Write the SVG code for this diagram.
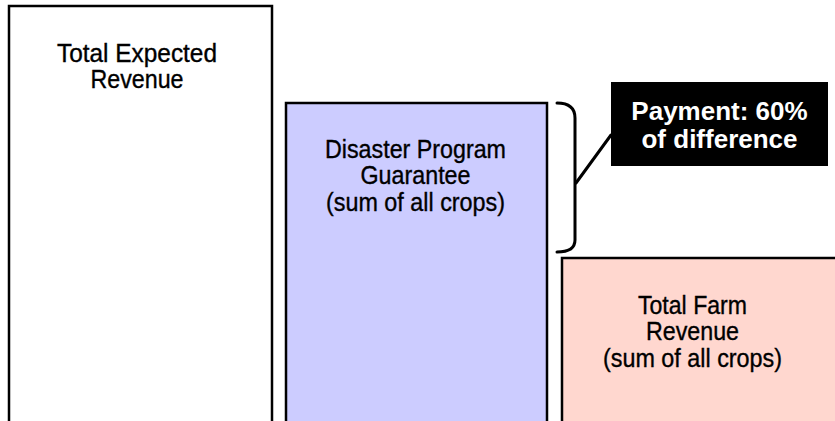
<svg xmlns="http://www.w3.org/2000/svg" width="835" height="421" viewBox="0 0 835 421">
<style>
.box{stroke:#000;stroke-width:2.5}
.lbl{font-family:"Liberation Sans",Arial,sans-serif;font-size:25px;fill:#000;stroke:#000;stroke-width:0.35;text-anchor:middle}
.call{font-family:"Liberation Sans",Arial,sans-serif;font-size:26px;font-weight:bold;fill:#fff;text-anchor:middle}
.conn{fill:none;stroke:#000;stroke-width:3;stroke-linecap:round}
</style>
<rect width="835" height="421" fill="#fff"/>
<g id="expected">
<rect class="box" x="9" y="6" width="263" height="430" fill="#fff"/>
<text class="lbl" x="137" y="61.5" textLength="160" lengthAdjust="spacingAndGlyphs">Total Expected</text>
<text class="lbl" x="137" y="88" textLength="93" lengthAdjust="spacingAndGlyphs">Revenue</text>
</g>
<g id="guarantee">
<rect class="box" x="286" y="103" width="261" height="340" fill="#CCCCFF"/>
<text class="lbl" x="415.5" y="157.5" textLength="181" lengthAdjust="spacingAndGlyphs">Disaster Program</text>
<text class="lbl" x="415.5" y="184" textLength="110" lengthAdjust="spacingAndGlyphs">Guarantee</text>
<text class="lbl" x="415.5" y="210.5" textLength="179" lengthAdjust="spacingAndGlyphs">(sum of all crops)</text>
</g>
<g id="farm">
<rect class="box" x="562" y="258" width="280" height="200" fill="#FFD7CF"/>
<text class="lbl" x="692.5" y="313.5" textLength="109" lengthAdjust="spacingAndGlyphs">Total Farm</text>
<text class="lbl" x="692.5" y="340" textLength="93" lengthAdjust="spacingAndGlyphs">Revenue</text>
<text class="lbl" x="692.5" y="366.5" textLength="179" lengthAdjust="spacingAndGlyphs">(sum of all crops)</text>
</g>
<g id="payment">
<rect x="611" y="82" width="217" height="84" fill="#000"/>
<text class="call" x="719.5" y="119.5">Payment: 60%</text>
<text class="call" x="719.5" y="148">of difference</text>
</g>
<g id="connectors">
<path class="conn" d="M557,103 Q575,103 575,118 L575,240 Q575,252 557,252"/>
<path class="conn" d="M576,183 L611,135"/>
</g>
</svg>
